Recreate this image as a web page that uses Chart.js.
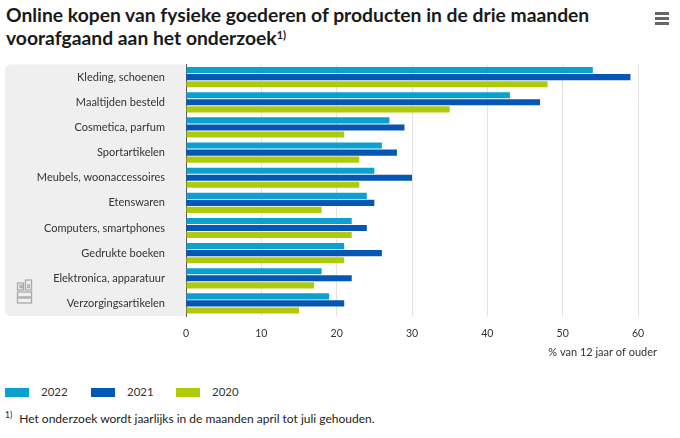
<!DOCTYPE html>
<html><head><meta charset="utf-8">
<script src="https://cdn.jsdelivr.net/npm/chart.js@4/dist/chart.umd.min.js"></script>
<style>
html,body{margin:0;padding:0;background:#fff;width:680px;height:438px;overflow:hidden;font-family:Lato,"Open Sans",sans-serif;color:#222}
#title{position:absolute;left:6px;top:3px;font-weight:700;font-size:19.3px;line-height:23px;color:#1a1a1a;width:640px}
#title sup{font-size:11px;vertical-align:top;position:relative;top:-3px}
#menu{position:absolute;left:655px;top:12px;width:14px}
#menu div{height:2.5px;background:#666;margin-bottom:2.5px}
#wrap{position:absolute;left:0;top:45px;width:680px;height:323px}
#wrap canvas{display:block}
#legend{position:absolute;left:0;top:386px;font-size:11.5px;color:#333}
.sw{position:absolute;top:2px;width:24px;height:9px}
.lt{position:absolute;top:-1px;white-space:nowrap}
#foot{position:absolute;left:5px;top:411px;font-size:12px;color:#222;white-space:nowrap}
#foot sup{font-size:8.5px;vertical-align:top;margin-right:7px;position:relative;top:-1px}
</style></head>
<body>
<div id="title">Online kopen van fysieke goederen of producten in de drie maanden voorafgaand aan het onderzoek<sup>1)</sup></div>
<div id="menu"><div></div><div></div><div></div></div>
<div id="wrap"><canvas id="c" width="680" height="323"></canvas></div>
<div id="legend"></div>
<div id="foot"><sup>1)</sup>Het onderzoek wordt jaarlijks in de maanden april tot juli gehouden.</div>
<script>
const categories = ["Kleding, schoenen","Maaltijden besteld","Cosmetica, parfum","Sportartikelen","Meubels, woonaccessoires","Etenswaren","Computers, smartphones","Gedrukte boeken","Elektronica, apparatuur","Verzorgingsartikelen"];
const seriesNames = ["2022","2021","2020"];
const values2022 = [54,43,27,26,25,24,22,21,18,19];
const values2021 = [59,47,29,28,30,25,24,26,22,21];
const values2020 = [48,35,21,23,23,18,22,21,17,15];
const xTicks = [0,10,20,30,40,50,60];
const axisTitle = "% van 12 jaar of ouder";
const colors = ["#0aa0d0","#0457b5","#afca0b"];

const legend = document.getElementById('legend');
const legendX = [5,91,176];
seriesNames.forEach((n,i)=>{
  const s=document.createElement('div');s.className='sw';s.style.left=legendX[i]+'px';s.style.background=colors[i];
  const t=document.createElement('div');t.className='lt';t.style.left=(legendX[i]+36)+'px';t.textContent=n;
  legend.appendChild(s);legend.appendChild(t);
});

const panel = {
  id:'panel',
  beforeDraw(chart){
    const {ctx,chartArea:a}=chart;
    ctx.save();
    ctx.fillStyle='#efefef';
    ctx.beginPath();
    ctx.roundRect(5,a.top,a.left-5,a.bottom-a.top,[6,0,0,6]);
    ctx.fill();
    // cbs logo
    ctx.strokeStyle='#a8a8a8';ctx.lineWidth=1.3;
    const x0=17.5,y0=a.bottom-36;
    ctx.strokeRect(x0,y0+3,6,7);
    ctx.beginPath();ctx.moveTo(x0+6,y0+5.5);ctx.lineTo(x0+2.5,y0+5.5);ctx.lineTo(x0+2.5,y0+7.5);ctx.lineTo(x0+6,y0+7.5);ctx.stroke();
    ctx.strokeRect(x0+8,y0,6,10);
    ctx.strokeRect(x0+10.3,y0+5,1.5,2.5);
    ctx.strokeRect(x0,y0+12,14,5);
    ctx.strokeRect(x0,y0+18,14,5);
    ctx.restore();
  },
  afterDraw(chart){
    const {ctx}=chart;
    ctx.save();
    ctx.font='11px Lato';ctx.fillStyle='#333';ctx.textAlign='right';ctx.textBaseline='middle';
    ctx.fillText(axisTitle,657,307);
    ctx.restore();
  }
};

new Chart(document.getElementById('c'),{
  type:'bar',
  data:{labels:categories,datasets:[
    {label:seriesNames[0],data:values2022,backgroundColor:colors[0]},
    {label:seriesNames[1],data:values2021,backgroundColor:colors[1]},
    {label:seriesNames[2],data:values2020,backgroundColor:colors[2]}
  ]},
  options:{
    indexAxis:'y',responsive:false,animation:false,
    categoryPercentage:0.84,barPercentage:0.87,
    layout:{padding:{left:0,top:9.4,right:42,bottom:0}},
    plugins:{legend:{display:false},tooltip:{enabled:false}},
    scales:{
      x:{min:0,max:60,afterBuildTicks(s){s.ticks=xTicks.map(v=>({value:v}));},
        afterFit(s){s.height=52;},
        grid:{color:'#e2e2e2',drawTicks:false},border:{display:false},
        ticks:{padding:11,color:'#333',font:{family:'Lato',size:10.5}}},
      y:{afterFit(s){s.width=186;},grid:{display:false},
        border:{display:true,color:'#555',width:1},
        ticks:{padding:13,color:'#333',font:{family:'Lato',size:11}}}
    }
  },
  plugins:[panel]
});
</script>
</body></html>
